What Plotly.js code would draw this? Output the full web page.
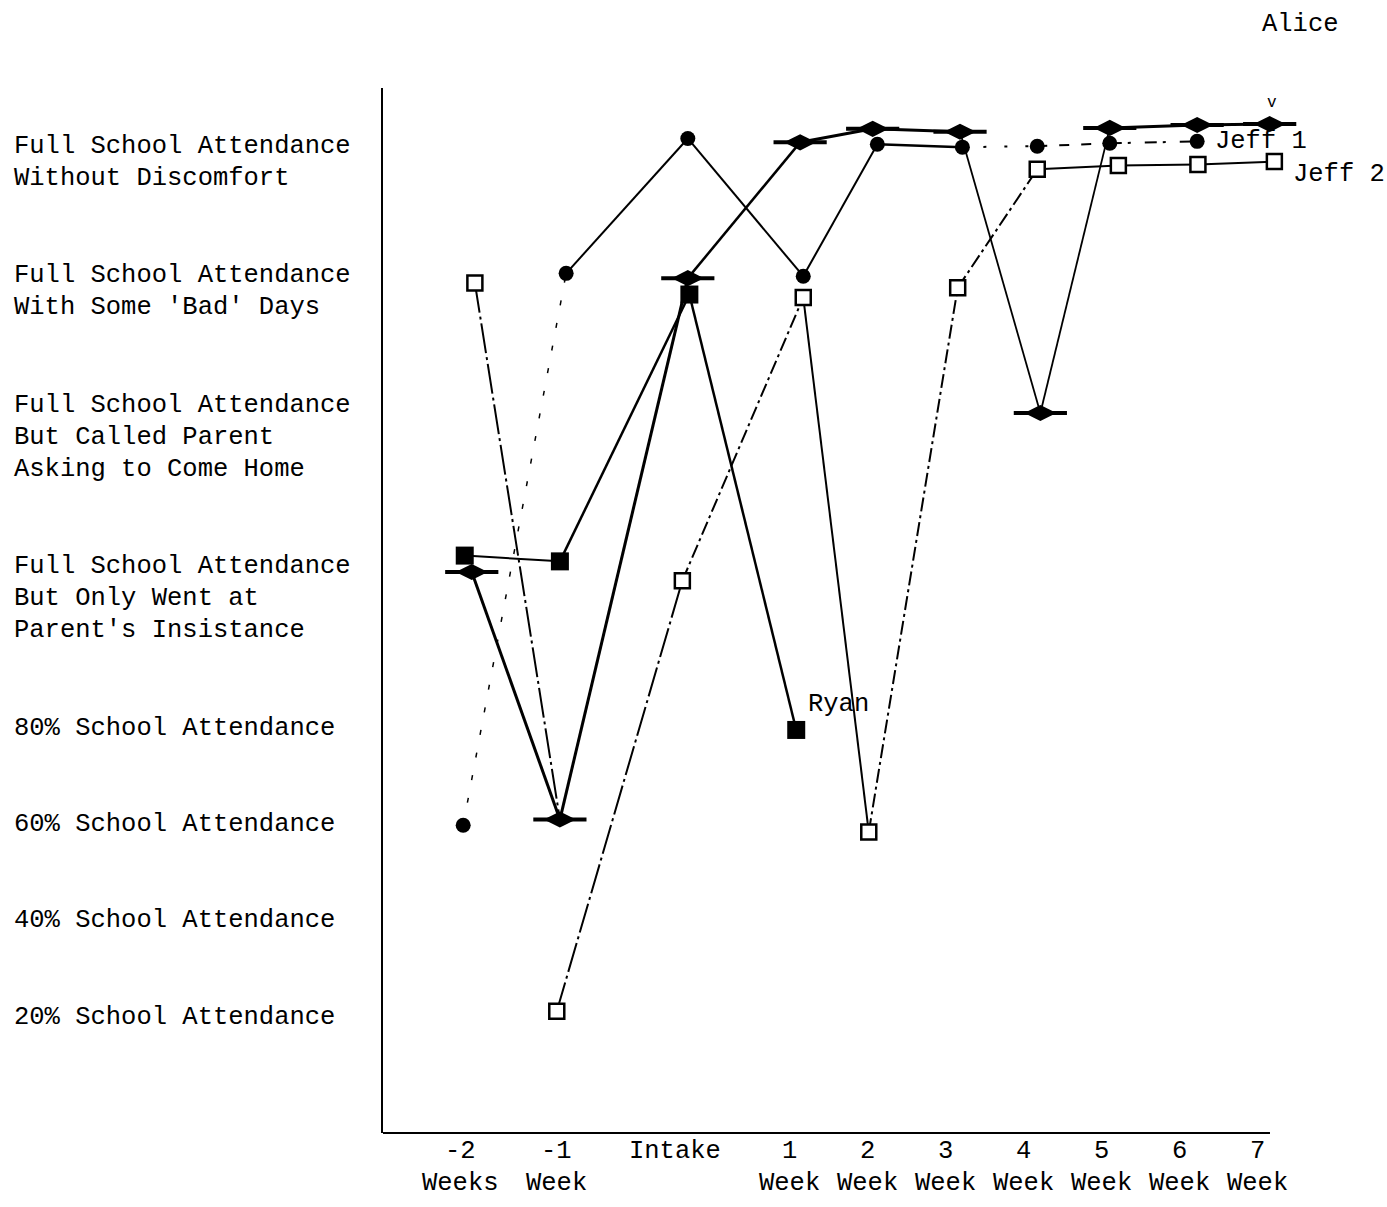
<!DOCTYPE html>
<html>
<head>
<meta charset="utf-8">
<script src="https://cdn.plot.ly/plotly-3.0.1.min.js"></script>
<style>html,body{margin:0;padding:0;background:#fff;}#chart{width:1387px;height:1207px;}</style>
</head>
<body>
<div id="chart"></div>
<script>
// ---- tick / category data ----
const xTickVals = [-3.23, -1.99, -0.47, 1, 2, 3, 4, 5, 6, 7];
const xTickTop = ['-2', '-1', 'Intake', '1', '2', '3', '4', '5', '6', '7'];
const xTickBottom = ['Weeks', 'Week', '', 'Week', 'Week', 'Week', 'Week', 'Week', 'Week', 'Week'];

const levelLabels = [
  '20% School Attendance',
  '40% School Attendance',
  '60% School Attendance',
  '80% School Attendance',
  "Full School Attendance<br>But Only Went at<br>Parent's Insistance",
  'Full School Attendance<br>But Called Parent<br>Asking to Come Home',
  "Full School Attendance<br>With Some 'Bad' Days",
  'Full School Attendance<br>Without Discomfort'
];
const levelValues = [1, 2, 3, 4, 5.34, 7.02, 8.53, 9.87];

// ---- series (x in weeks-scale, y in attendance-level scale) ----
const jeff1X = [-3.19, -1.87, -0.31, 1.17, 2.12, 3.21, 4.17, 5.10, 6.22];
const jeff1Y = [2.99, 8.72, 10.12, 8.69, 10.06, 10.03, 10.04, 10.07, 10.09];

const jeff2X = [-3.04, -1.99, -0.38, 1.17, 2.01, 3.15, 4.17, 5.21, 6.23, 7.21];
const jeff2Y = [8.62, 1.06, 5.53, 8.47, 2.92, 8.57, 9.80, 9.84, 9.85, 9.88];

const aliceX = [-3.08, -1.95, -0.31, 1.13, 2.06, 3.18, 4.21, 5.10, 6.22, 7.15];
const aliceY = [5.62, 3.05, 8.67, 10.08, 10.22, 10.19, 7.27, 10.23, 10.26, 10.27];

const ryanX = [-3.17, -1.95, -0.29, 1.08];
const ryanY = [5.79, 5.73, 8.50, 3.98];

// ---- segment styles (null = not connected) ----
const DD = '14px,4px,3px,4px';
const jeff1Seg = [{d:'5px,18px', w:1.5}, {d:'solid', w:2}, {d:'solid', w:2}, {d:'solid', w:2}, {d:'solid', w:2.5}, {d:'3px,18px', w:2}, {d:'10px,12px', w:2}, {d:'12px,6px,3px,14px', w:2}];
const jeff2Seg = [null, {d:'30px,4px,3px,4px', w:2}, {d:DD, w:2}, {d:'solid', w:2}, {d:DD, w:2}, {d:DD, w:2}, {d:'solid', w:2}, {d:'solid', w:2}, {d:'solid', w:2}];
const aliceSeg = [{d:'solid', w:3}, {d:'solid', w:3}, {d:'solid', w:2.5}, {d:'solid', w:3}, {d:'solid', w:3}, {d:'solid', w:1.8}, {d:'solid', w:1.8}, {d:'solid', w:3}, {d:'solid', w:3}];
const ryanSeg = [{d:'solid', w:2}, {d:'solid', w:2.5}, {d:'solid', w:2.5}];

const traces = [];
function addSegments(xs, ys, segs) {
  for (let i = 0; i < xs.length - 1; i++) {
    const s = segs[i];
    if (!s) continue;
    traces.push({x: [xs[i], xs[i + 1]], y: [ys[i], ys[i + 1]], mode: 'lines', type: 'scatter',
      line: {color: '#000', width: s.w, dash: s.d}, hoverinfo: 'skip', showlegend: false});
  }
}
addSegments(jeff1X, jeff1Y, jeff1Seg);
addSegments(jeff2X, jeff2Y, jeff2Seg);
addSegments(aliceX, aliceY, aliceSeg);
addSegments(ryanX, ryanY, ryanSeg);
// Jeff 2's first point is drawn joined to Alice's -1 week point
traces.push({x: [jeff2X[0], aliceX[1]], y: [jeff2Y[0], aliceY[1]], mode: 'lines', type: 'scatter',
  line: {color: '#000', width: 2, dash: '30px,4px,3px,4px'}, hoverinfo: 'skip', showlegend: false});

// markers
traces.push({x: jeff1X, y: jeff1Y, mode: 'markers', type: 'scatter', name: 'Jeff 1', cliponaxis: false,
  marker: {symbol: 'circle', size: 15, color: '#000'}});
traces.push({x: jeff2X, y: jeff2Y, mode: 'markers', type: 'scatter', name: 'Jeff 2', cliponaxis: false,
  marker: {symbol: 'square', size: 15, color: '#fff', line: {color: '#000', width: 2.5}}});
traces.push({x: ryanX, y: ryanY, mode: 'markers', type: 'scatter', name: 'Ryan', cliponaxis: false,
  marker: {symbol: 'square', size: 18, color: '#000'}});
traces.push({x: aliceX, y: aliceY, mode: 'markers', type: 'scatter', name: 'Alice', cliponaxis: false,
  marker: {symbol: 'diamond-wide', size: 23, color: '#000', line: {width: 0}}});
traces.push({x: aliceX, y: aliceY, mode: 'markers', type: 'scatter', name: 'Alice', cliponaxis: false, hoverinfo: 'skip',
  marker: {symbol: 'line-ew', size: 38, line: {color: '#000', width: 4}}});

const FONT = {family: '"Liberation Mono", "DejaVu Sans Mono", monospace', size: 25.5, color: '#000'};
const LINE = 32;
const LABEL_LEFT_PX = 12, PLOT_LEFT_PX = 383;

const annotations = [];
// y-axis level labels, one annotation per text line
levelLabels.forEach((t, i) => {
  const lines = t.split('<br>');
  lines.forEach((ln, j) => {
    annotations.push({xref: 'paper', x: 0, xshift: LABEL_LEFT_PX - PLOT_LEFT_PX, yref: 'y', y: levelValues[i], text: ln,
      yshift: ((lines.length - 1) / 2 - j) * LINE,
      xanchor: 'left', yanchor: 'middle', align: 'left', showarrow: false, font: FONT});
  });
});
// x-axis labels (two rows)
xTickVals.forEach((v, i) => {
  annotations.push({x: v, xref: 'x', yref: 'paper', y: 0, yshift: -18, text: xTickTop[i],
    xanchor: 'center', yanchor: 'middle', showarrow: false, font: FONT});
  if (xTickBottom[i]) annotations.push({x: v, xref: 'x', yref: 'paper', y: 0, yshift: -50, text: xTickBottom[i],
    xanchor: 'center', yanchor: 'middle', showarrow: false, font: FONT});
});
const nJ1 = jeff1X.length - 1, nJ2 = jeff2X.length - 1, nA = aliceX.length - 1, nR = ryanX.length - 1;
annotations.push({x: jeff1X[nJ1], y: jeff1Y[nJ1], text: 'Jeff 1', xanchor: 'left', yanchor: 'middle', xshift: 16, yshift: 0, showarrow: false, font: FONT});
annotations.push({x: jeff2X[nJ2], y: jeff2Y[nJ2], text: 'Jeff 2', xanchor: 'left', yanchor: 'middle', xshift: 17, yshift: -13, showarrow: false, font: FONT});
annotations.push({x: ryanX[nR], y: ryanY[nR], text: 'Ryan', xanchor: 'left', yanchor: 'middle', xshift: 10, yshift: 25, showarrow: false, font: FONT});
annotations.push({x: aliceX[nA], y: aliceY[nA], text: 'Alice', xanchor: 'center', yanchor: 'middle', xshift: 31, yshift: 100, showarrow: false, font: FONT});
annotations.push({x: aliceX[nA], y: aliceY[nA], text: 'v', xanchor: 'center', yanchor: 'middle', xshift: 2, yshift: 21, showarrow: false, font: {family: FONT.family, size: 16, color: '#000'}});

const X_MIN = -4.218, X_AXIS_END = 7.154;
const layout = {
  width: 1387, height: 1207,
  margin: {l: PLOT_LEFT_PX, r: 77, t: 88, b: 74, pad: 0},
  paper_bgcolor: '#fff', plot_bgcolor: '#fff',
  showlegend: false,
  xaxis: {range: [X_MIN, 7.667], showgrid: false, zeroline: false, showline: false,
    showticklabels: false, ticks: ''},
  yaxis: {range: [-0.204, 10.644], showgrid: false, zeroline: false, showticklabels: false,
    showline: true, linecolor: '#000', linewidth: 2, ticks: ''},
  shapes: [{type: 'line', xref: 'x', x0: X_MIN, x1: X_AXIS_END, yref: 'paper', y0: 0, y1: 0,
    line: {color: '#000', width: 2}}],
  annotations: annotations
};

Plotly.newPlot('chart', traces, layout, {displayModeBar: false, staticPlot: true});
</script>
</body>
</html>
